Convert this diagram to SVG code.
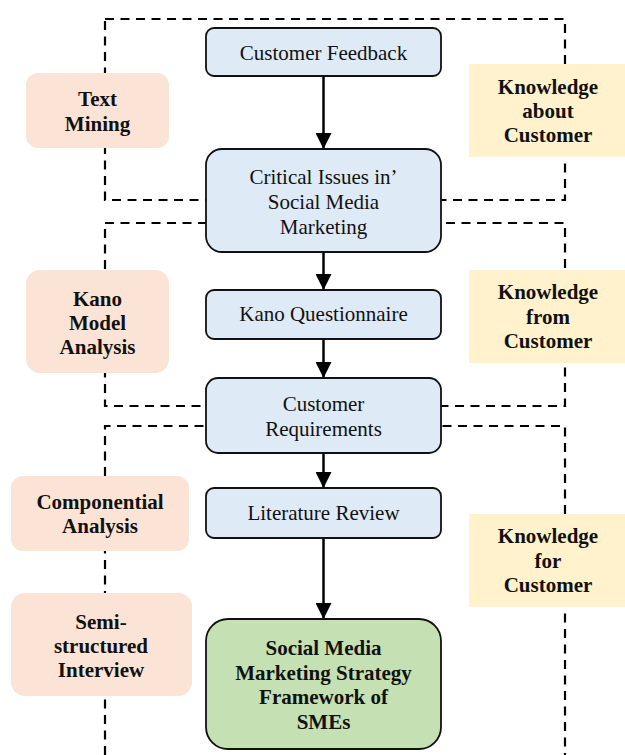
<svg xmlns="http://www.w3.org/2000/svg" width="625" height="755" viewBox="0 0 625 755">
<style>
.dash{fill:none;stroke:#000;stroke-width:2.2;stroke-dasharray:9 6.5}
.blue{fill:#DEEAF6;stroke:#111;stroke-width:1.8}
.green{fill:#C5E0B3;stroke:#111;stroke-width:1.8}
.orange{fill:#FBE4D5;stroke:none}
.yellow{fill:#FFF2CC;stroke:none}
.t{font-family:'Liberation Serif','DejaVu Serif',serif;font-size:21px;fill:#111;text-anchor:middle}
.b{font-weight:bold}
.arr{stroke:#000;stroke-width:2.5;fill:none}
</style>
<defs>
<marker id="ah" markerUnits="userSpaceOnUse" markerWidth="16" markerHeight="16" refX="16" refY="8" orient="auto">
<path d="M0,0 L16,8 L0,16 z" fill="#000"/>
</marker>
</defs>
<g id="regions">
<rect class="dash" x="105" y="19" width="460" height="181"/>
<rect class="dash" x="105" y="223" width="460" height="183"/>
<path class="dash" d="M105,755 V426 H565 V755"/>
</g>
<g id="connectors">
<line class="arr" x1="323.5" y1="76" x2="323.5" y2="149" marker-end="url(#ah)"/>
<line class="arr" x1="323.5" y1="252" x2="323.5" y2="290" marker-end="url(#ah)"/>
<line class="arr" x1="323.5" y1="339" x2="323.5" y2="378" marker-end="url(#ah)"/>
<line class="arr" x1="323.5" y1="453" x2="323.5" y2="488" marker-end="url(#ah)"/>
<line class="arr" x1="323.5" y1="538" x2="323.5" y2="619" marker-end="url(#ah)"/>
</g>
<g font-family="Liberation Serif, serif">
<g id="customer-feedback">
<rect class="blue" x="206" y="28" width="235" height="48" rx="8"/>
<text class="t" x="323.5" y="60">Customer Feedback</text>
</g>
<g id="critical-issues">
<rect class="blue" x="206" y="149" width="235" height="103" rx="16"/>
<text class="t" x="323.5" y="183.5">Critical Issues in’</text>
<text class="t" x="323.5" y="208.5">Social Media</text>
<text class="t" x="323.5" y="233.5">Marketing</text>
</g>
<g id="kano-questionnaire">
<rect class="blue" x="206" y="290" width="235" height="49" rx="8"/>
<text class="t" x="323.5" y="321">Kano Questionnaire</text>
</g>
<g id="customer-requirements">
<rect class="blue" x="206" y="378" width="235" height="75" rx="12"/>
<text class="t" x="323.5" y="411">Customer</text>
<text class="t" x="323.5" y="436">Requirements</text>
</g>
<g id="literature-review">
<rect class="blue" x="206" y="488" width="235" height="50" rx="8"/>
<text class="t" x="323.5" y="520">Literature Review</text>
</g>
<g id="framework">
<rect class="green" x="206" y="619" width="235" height="130" rx="22"/>
<text class="t b" x="323.5" y="655">Social Media</text>
<text class="t b" x="323.5" y="680">Marketing Strategy</text>
<text class="t b" x="323.5" y="704">Framework of</text>
<text class="t b" x="323.5" y="729">SMEs</text>
</g>
<g id="text-mining">
<rect class="orange" x="26" y="73" width="143" height="75" rx="12"/>
<text class="t b" x="97.5" y="106">Text</text>
<text class="t b" x="97.5" y="131">Mining</text>
</g>
<g id="kano-model-analysis">
<rect class="orange" x="26" y="270" width="143" height="103" rx="14"/>
<text class="t b" x="97.5" y="306">Kano</text>
<text class="t b" x="97.5" y="330">Model</text>
<text class="t b" x="97.5" y="354">Analysis</text>
</g>
<g id="componential-analysis">
<rect class="orange" x="11" y="476" width="178" height="75" rx="12"/>
<text class="t b" x="100" y="509">Componential</text>
<text class="t b" x="100" y="533">Analysis</text>
</g>
<g id="semi-structured-interview">
<rect class="orange" x="11" y="593" width="181" height="103" rx="14"/>
<text class="t b" x="101" y="629">Semi-</text>
<text class="t b" x="101" y="653">structured</text>
<text class="t b" x="101" y="677">Interview</text>
</g>
<g id="knowledge-about">
<rect class="yellow" x="469" y="64" width="156" height="93"/>
<text class="t b" x="548" y="94">Knowledge</text>
<text class="t b" x="548" y="118">about</text>
<text class="t b" x="548" y="142">Customer</text>
</g>
<g id="knowledge-from">
<rect class="yellow" x="469" y="270" width="156" height="93"/>
<text class="t b" x="548" y="299">Knowledge</text>
<text class="t b" x="548" y="324">from</text>
<text class="t b" x="548" y="348">Customer</text>
</g>
<g id="knowledge-for">
<rect class="yellow" x="469" y="514" width="156" height="93"/>
<text class="t b" x="548" y="543">Knowledge</text>
<text class="t b" x="548" y="568">for</text>
<text class="t b" x="548" y="592">Customer</text>
</g>
</g>
</svg>
